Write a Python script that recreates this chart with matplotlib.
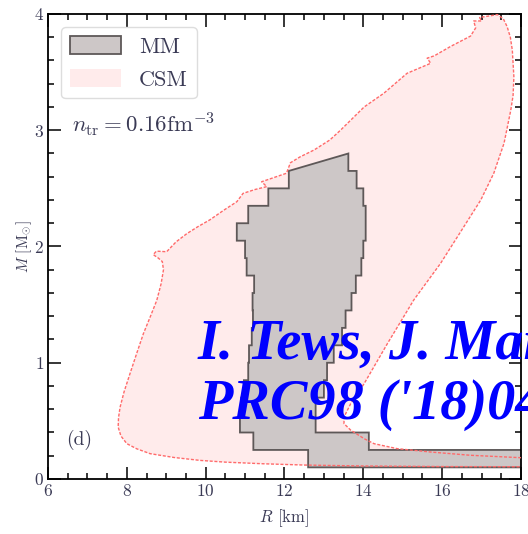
"""
Mass-radius envelopes: MM vs CSM, n_tr = 0.16 fm^-3, panel (d)
"""

import matplotlib
matplotlib.use("Agg")
import matplotlib.pyplot as plt
from matplotlib.ticker import MultipleLocator

plt.rcParams['font.family'] = ['cmr10', 'DejaVu Serif']
plt.rcParams['mathtext.fontset'] = 'cm'
plt.rcParams['axes.formatter.use_mathtext'] = True

# MM band: mass bins (lower edges) with left / right radius of each bin
mm_mass_lo = [0.10, 0.25, 0.40, 0.55, 0.70, 0.85, 1.00, 1.15, 1.30, 1.45,
              1.60, 1.75, 1.90, 2.05, 2.20, 2.35, 2.50, 2.65]
mm_mass_top = 2.80
mm_r_left = [12.60, 11.21, 10.87, 10.90, 10.97, 11.08, 11.10, 11.17, 11.20, 11.19,
             11.23, 11.04, 11.00, 10.79, 11.08, 11.59, 12.11, 12.11]
mm_r_right = [18.50, 14.14, 12.79, 12.79, 13.00, 13.08, 13.25, 13.46, 13.55, 13.70,
              13.81, 13.95, 14.00, 14.06, 14.06, 14.00, 13.83, 13.62]

# CSM envelope outline (R in km, M in Msun)
csm_r = [18.5, 16.0, 14.0, 12.5, 11.46, 10.5, 9.86, 9.2, 8.59, 8.25, 8.0, 7.85,
         7.78, 7.79, 7.83, 7.93, 8.08, 8.25, 8.42, 8.6, 8.76, 8.87, 8.93, 8.9,
         8.8, 8.67, 8.75, 9.01, 9.25, 9.52, 9.8, 10.11, 10.45, 10.79, 10.95,
         11.25, 11.55, 11.42, 12.05, 12.15, 12.39, 12.75, 13.15, 13.42, 14.02,
         14.52, 15.11, 15.71, 15.62, 15.8, 16.21, 16.72, 16.85, 16.8, 17.0,
         16.95, 17.23, 17.4, 17.55, 17.65, 17.73, 17.78, 17.82, 17.8, 17.74,
         17.57, 17.31, 16.98, 16.55, 15.96, 15.28, 14.61, 14.02, 13.68, 13.51,
         13.51, 13.68, 14.02, 14.27, 14.86, 15.71, 16.72, 18.5]
csm_m = [0.105, 0.107, 0.112, 0.12, 0.131, 0.145, 0.16, 0.185, 0.218, 0.26, 0.304,
         0.37, 0.447, 0.53, 0.619, 0.75, 0.906, 1.08, 1.25, 1.4, 1.537, 1.68, 1.80,
         1.87, 1.90, 1.93, 1.96, 1.955, 2.04, 2.11, 2.17, 2.23, 2.31, 2.385, 2.457,
         2.49, 2.515, 2.557, 2.63, 2.72, 2.77, 2.83, 2.916, 3.0, 3.2, 3.318, 3.49,
         3.576, 3.62, 3.64, 3.72, 3.81, 3.88, 3.94, 3.94, 3.97, 3.985, 3.995,
         3.96, 3.89, 3.8, 3.69, 3.46, 3.3, 3.17, 2.888, 2.63, 2.40, 2.17, 1.855,
         1.54, 1.164, 0.82, 0.648, 0.533, 0.476, 0.42, 0.347, 0.304, 0.261,
         0.232, 0.204, 0.175]

# build the stepped MM outline: right side upward, slanted top, left side down
mm_poly = []
for i, r in enumerate(mm_r_right):
    hi = mm_mass_lo[i + 1] if i + 1 < len(mm_mass_lo) else mm_mass_top
    mm_poly.append((r, mm_mass_lo[i]))
    mm_poly.append((r, hi))
for i in reversed(range(len(mm_mass_lo))):
    hi = mm_mass_lo[i + 1] if i + 1 < len(mm_mass_lo) else mm_mass_lo[i]
    mm_poly.append((mm_r_left[i], hi))
    mm_poly.append((mm_r_left[i], mm_mass_lo[i]))

fig = plt.figure(figsize=(5.28, 5.34), dpi=100)
ax = fig.add_axes([0.0909, 0.103, 0.8958, 0.8708])

ax.fill(csm_r, csm_m, facecolor='#ffebeb', edgecolor='none', zorder=1, label='CSM')
ax.fill([p[0] for p in mm_poly], [p[1] for p in mm_poly], facecolor='#cdc7c7',
        edgecolor='#5e5858', linewidth=1.3, zorder=2, label='MM')
ax.plot(csm_r + [csm_r[0]], csm_m + [csm_m[0]], color='#ff6a6a', lw=1.0,
        dashes=(2.2, 1.2), zorder=3)

ax.set_xlim(6, 18)
ax.set_ylim(0, 4)
ax.xaxis.set_major_locator(MultipleLocator(2))
ax.xaxis.set_minor_locator(MultipleLocator(0.5))
ax.yaxis.set_major_locator(MultipleLocator(1))
ax.yaxis.set_minor_locator(MultipleLocator(0.2))
ax.tick_params(which='both', direction='in', top=True, right=True,
               labelsize=12.5, labelcolor='#3a3a55', width=1.1)
ax.tick_params(which='major', length=9, pad=3)
ax.tick_params(which='minor', length=4)
for s in ax.spines.values():
    s.set_linewidth(1.3)

ax.set_xlabel(r'$R$ [km]', fontsize=12, color='#3a3a55', labelpad=6)
ax.set_ylabel(r'$M$ [M$_{\odot}$]', fontsize=11, color='#3a3a55', labelpad=0)

handles, labels = ax.get_legend_handles_labels()
order = [labels.index('MM'), labels.index('CSM')]
leg = ax.legend([handles[i] for i in order], [labels[i] for i in order],
                loc='upper left', fontsize=16, handlelength=2.3, handleheight=0.85,
                handletextpad=0.8, labelspacing=0.55, borderaxespad=0.6,
                fancybox=True, framealpha=1, edgecolor='#dddddd')
for t in leg.get_texts():
    t.set_color('#3a3a55')

ax.text(6.61, 3.05, r'$n_{\rm tr} = 0.16{\rm fm}^{-3}$', fontsize=16.5,
        color='#3a3a55', ha='left', va='center')
ax.text(6.45, 0.335, '(d)', fontsize=14, color='#3a3a55', ha='left', va='center')

fig.text(0.375, 0.328, 'I. Tews, J. Margueron, S. Reddy', fontsize=40.5,
         family='Liberation Serif', weight='bold', style='italic', color='blue')
fig.text(0.375, 0.216, "PRC98 ('18)045804", fontsize=40.5,
         family='Liberation Serif', weight='bold', style='italic', color='blue')

fig.savefig('out.png', dpi=100)
